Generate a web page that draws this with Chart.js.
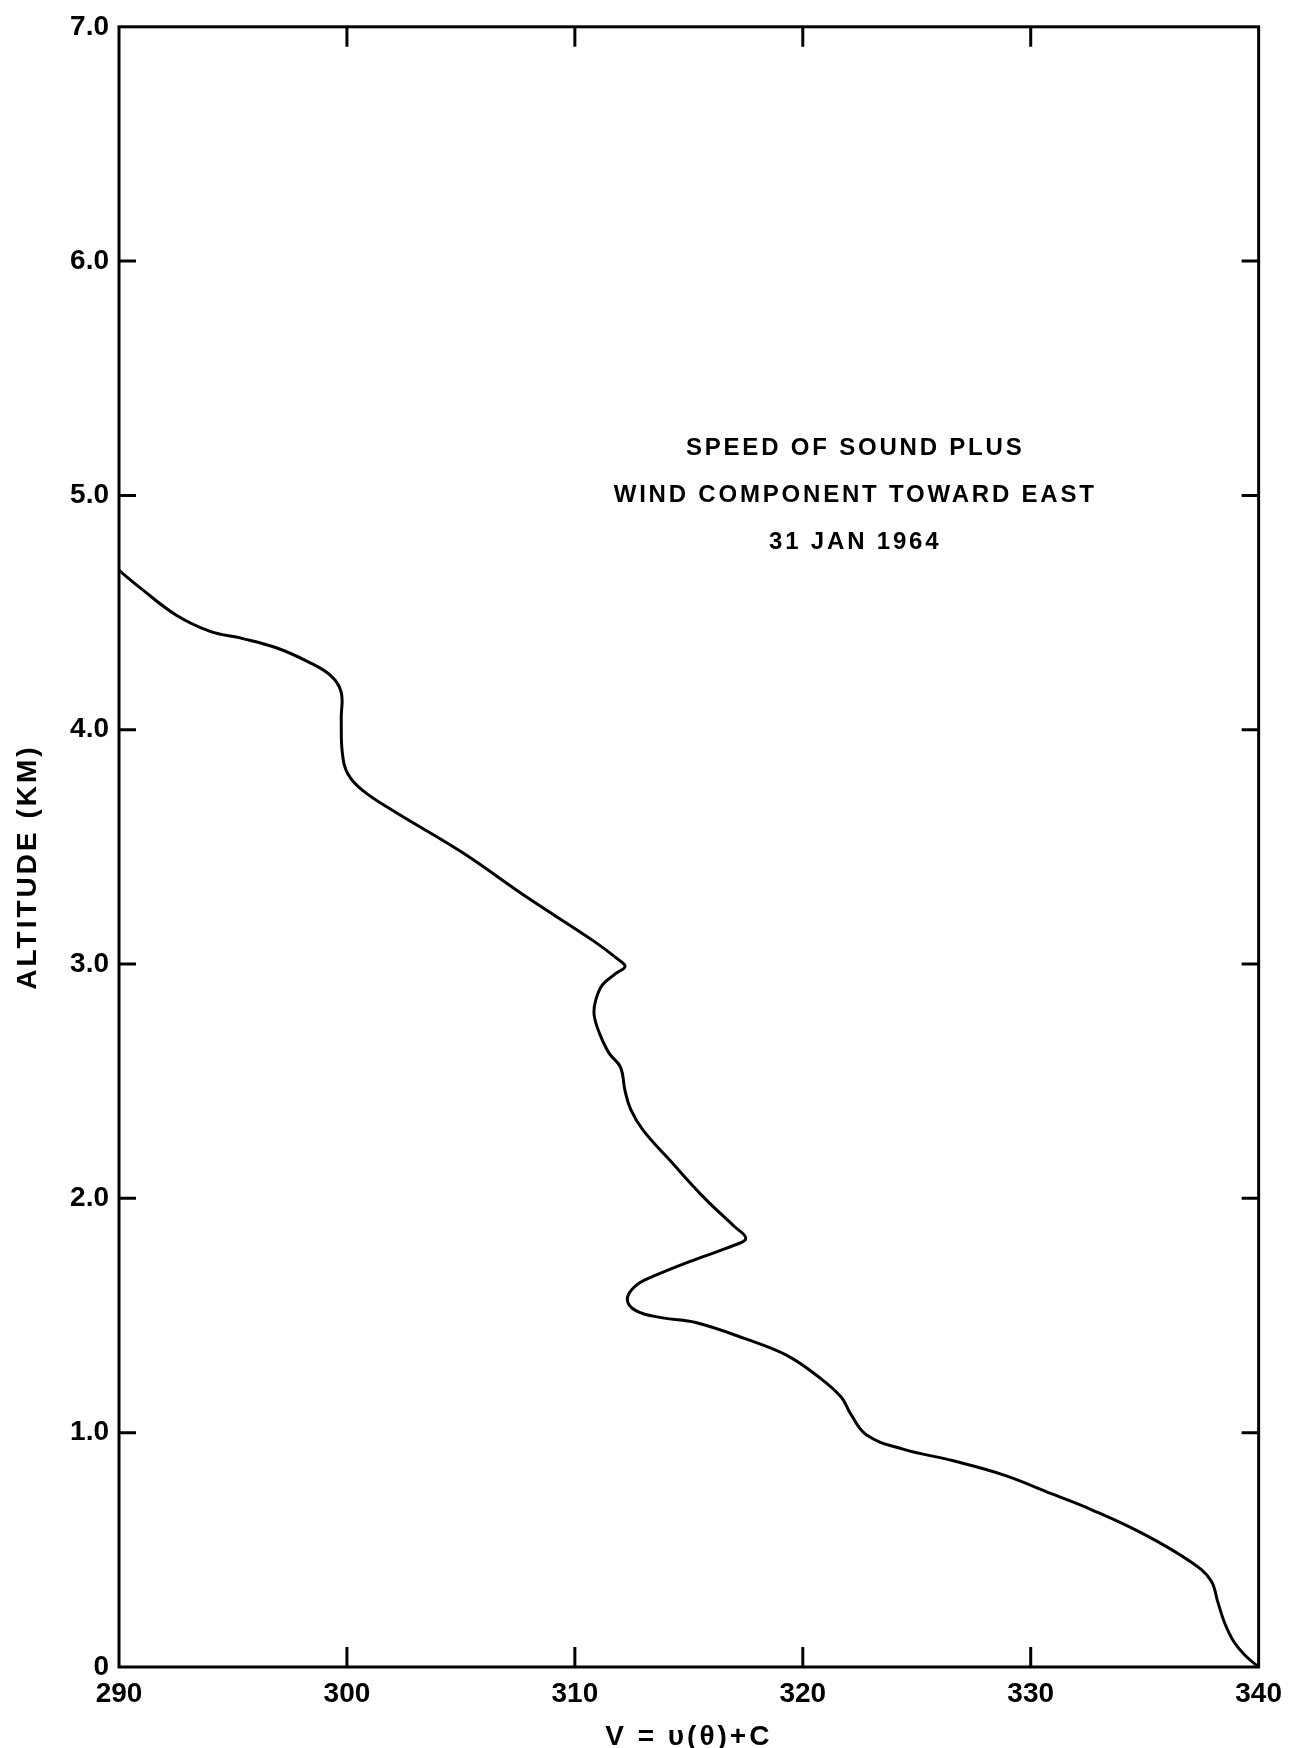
<!DOCTYPE html>
<html>
<head>
<meta charset="utf-8">
<script src="https://cdn.jsdelivr.net/npm/chart.js@4.4.1/dist/chart.umd.min.js"></script>
<style>
  html, body { margin: 0; padding: 0; background: #fff; }
  #wrap { width: 1292px; height: 1748px; }
</style>
</head>
<body>
<div id="wrap"><canvas id="soundChart" width="1292" height="1748"></canvas></div>
<script>
// V = u(theta) + C  (m/s) vs altitude (km) from top to ground
const speed = [
  290.0, 291.0, 292.5, 294.0, 295.4, 296.9, 298.3, 299.3, 299.75, 299.75,
  299.8, 300.05, 300.7, 302.1, 305.0, 307.9, 310.8, 311.9, 312.2, 311.8,
  311.2, 310.9, 310.85, 311.1, 311.5, 312.0, 312.2, 312.45, 313.0, 314.1,
  315.7, 317.0, 317.5, 317.0, 315.3, 313.5, 312.7, 312.3, 312.7, 313.85,
  315.3, 317.5, 319.3, 320.8, 321.7, 322.1, 322.8, 324.4, 326.6, 328.8,
  330.9, 332.7, 334.9, 337.0, 337.9, 338.2, 338.5, 338.9, 339.4, 340.0,
];
const altitude = [
  4.68, 4.60, 4.49, 4.42, 4.39, 4.35, 4.29, 4.23, 4.16, 4.05,
  3.90, 3.81, 3.74, 3.65, 3.48, 3.285, 3.10, 3.02, 2.99, 2.96,
  2.91, 2.84, 2.78, 2.70, 2.62, 2.56, 2.46, 2.38, 2.29, 2.17,
  2.00, 1.88, 1.83, 1.80, 1.74, 1.67, 1.63, 1.57, 1.52, 1.49,
  1.47, 1.40, 1.33, 1.23, 1.15, 1.08, 0.99, 0.93, 0.88, 0.82,
  0.74, 0.67, 0.57, 0.45, 0.37, 0.28, 0.19, 0.11, 0.05, 0.0,
];

const xTicks = [290, 300, 310, 320, 330, 340];
const yTicks = [0, 1, 2, 3, 4, 5, 6, 7];
const noteLines = ["SPEED OF SOUND PLUS", "WIND COMPONENT TOWARD EAST", "31 JAN 1964"];
const xTitle = "V = \u03C5(\u03B8)+C";
const yTitle = "ALTITUDE (KM)";

const ink = "#000";
const tickFont = { family: "'Liberation Sans', Arial, sans-serif", size: 28, weight: "bold" };

// frame, inward ticks, axis titles and the note
const framePlugin = {
  id: "frame",
  afterDraw(chart) {
    const { ctx, chartArea: { left, right, top, bottom }, scales: { x, y } } = chart;
    ctx.save();
    ctx.strokeStyle = ink;
    ctx.lineWidth = 3;
    ctx.strokeRect(left, top, right - left, bottom - top);

    ctx.beginPath();
    xTicks.slice(1, -1).forEach((v) => {
      const px = x.getPixelForValue(v);
      ctx.moveTo(px, bottom);
      ctx.lineTo(px, bottom - 20);
      ctx.moveTo(px, top);
      ctx.lineTo(px, top + 20);
    });
    yTicks.slice(1, -1).forEach((v) => {
      const py = y.getPixelForValue(v);
      ctx.moveTo(left, py);
      ctx.lineTo(left + 17, py);
      ctx.moveTo(right, py);
      ctx.lineTo(right - 17, py);
    });
    ctx.stroke();

    ctx.fillStyle = ink;
    ctx.textAlign = "center";
    ctx.textBaseline = "middle";

    // note in the upper right
    ctx.font = "bold 24px 'Liberation Sans', Arial, sans-serif";
    ctx.letterSpacing = "2.8px";
    const nx = x.getPixelForValue(322.3);
    noteLines.forEach((line, i) => {
      ctx.fillText(line, nx, y.getPixelForValue(5.2) + i * 47);
    });

    // x title
    ctx.font = "bold 28px 'Liberation Sans', Arial, sans-serif";
    ctx.letterSpacing = "3px";
    ctx.fillText(xTitle, (left + right) / 2, bottom + 70);

    // y title
    ctx.font = "bold 28px 'Liberation Sans', Arial, sans-serif";
    ctx.letterSpacing = "3px";
    ctx.translate(28, 867);
    ctx.rotate(-Math.PI / 2);
    ctx.fillText(yTitle, 0, 0);
    ctx.restore();
  },
};

const chart = new Chart(document.getElementById("soundChart").getContext("2d"), {
  type: "scatter",
  data: {
    datasets: [
      {
        label: "V",
        data: speed.map((v, i) => ({ x: v, y: altitude[i] })),
        showLine: true,
        borderColor: ink,
        borderWidth: 3,
        pointRadius: 0,
        tension: 0.4,
      },
    ],
  },
  options: {
    responsive: false,
    animation: false,
    layout: { padding: { top: 18, right: 24, left: 0, bottom: 0 } },
    scales: {
      x: {
        type: "linear",
        min: 290,
        max: 340,
        afterFit: (s) => { s.height = 81; },
        afterBuildTicks: (s) => { s.ticks = xTicks.map((v) => ({ value: v })); },
        ticks: { font: tickFont, color: ink, padding: 10, maxRotation: 0 },
        grid: { display: false, drawTicks: false },
        border: { display: false },
      },
      y: {
        min: 0,
        max: 7,
        afterFit: (s) => { s.width = 119; },
        afterBuildTicks: (s) => { s.ticks = yTicks.map((v) => ({ value: v })); },
        ticks: {
          font: tickFont,
          color: ink,
          padding: 10,
          callback: (v) => (v === 0 ? "0" : v.toFixed(1)),
        },
        grid: { display: false, drawTicks: false },
        border: { display: false },
      },
    },
    plugins: { legend: { display: false }, tooltip: { enabled: false } },
  },
  plugins: [framePlugin],
});
</script>
</body>
</html>
